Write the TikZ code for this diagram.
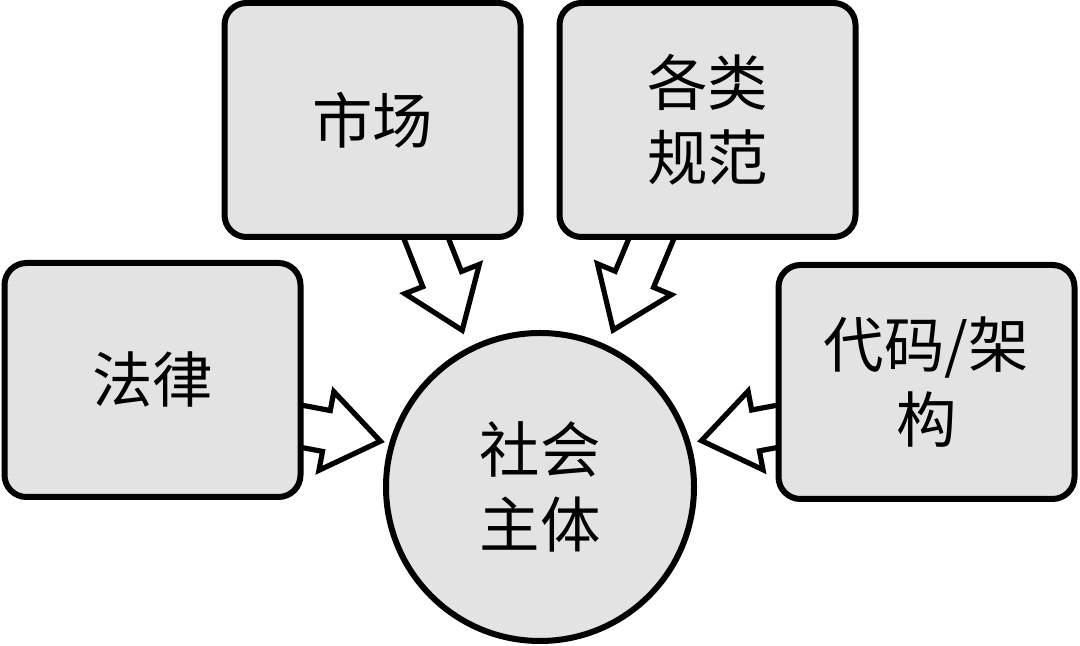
\documentclass[tikz,border=0pt]{standalone}
\usepackage{fontspec}
\newfontfamily\cjk{Noto Sans CJK SC}
\usetikzlibrary{calc, backgrounds}
\definecolor{boxfill}{HTML}{E3E3E3}
\tikzset{
  force/.style={draw=black, line width=0.15cm, rounded corners=0.55cm, fill=boxfill,
                minimum width=7.4cm, minimum height=5.85cm, align=center,
                font=\cjk\fontsize{43pt}{53pt}\selectfont},
  subject/.style={circle, draw=black, line width=0.15cm, fill=boxfill,
                  minimum size=7.7cm, align=center,
                  font=\cjk\fontsize{43pt}{53pt}\selectfont},
  fat/.style={draw=black, line width=0.13cm, fill=white, line join=miter},
}
% hollow block arrow from #1 (tail) to #2 (tip)
\newcommand{\fatarrow}[2]{%
  \filldraw[fat] ($(#1)!0.52cm!90:(#2)$)
    -- ($(#2)!1.375cm!(#1)!0.52cm!-90:(#1)$)
    -- ($(#2)!1.375cm!(#1)!1cm!-90:(#1)$)
    -- (#2)
    -- ($(#2)!1.375cm!(#1)!1cm!90:(#1)$)
    -- ($(#2)!1.375cm!(#1)!0.52cm!90:(#1)$)
    -- ($(#1)!0.52cm!-90:(#2)$) -- cycle;}

\begin{document}
\begin{tikzpicture}
  \useasboundingbox (0,0) rectangle (27,16.15);
  % four forces
  \node[force] (law)    at (3.8125,6.65)  {法律};
  \node[force] (market) at (9.3125,13.15) {市场};
  \node[force] (norms)  at (17.6875,13.15) {各类\\规范};
  \node[force] (code)   at (23.1625,6.6) {代码/架\\构};
  % the regulated
  \node[subject] (subj) at (13.5,3.975) {社会\\主体};

  \coordinate (tailL) at ($(law.east)+(-0.35,-1.1)$);
  \coordinate (tailM) at ($(market.south)+(1.2,0.4)$);
  \coordinate (tailN) at ($(norms.south)+(-1.25,0.4)$);
  \coordinate (tailC) at ($(code.west)+(0.35,-1.05)$);
  \coordinate (tipL) at ($(subj.center)+(164:4.15)$);
  \coordinate (tipM) at ($(subj.center)+(116.4:4.375)$);
  \coordinate (tipN) at ($(subj.center)+(65:4.33)$);
  \coordinate (tipC) at ($(subj.center)+(16:4.2)$);

  \begin{scope}[on background layer]
    \fatarrow{tailL}{tipL}
    \fatarrow{tailM}{tipM}
    \fatarrow{tailN}{tipN}
    \fatarrow{tailC}{tipC}
  \end{scope}
\end{tikzpicture}
\end{document}
